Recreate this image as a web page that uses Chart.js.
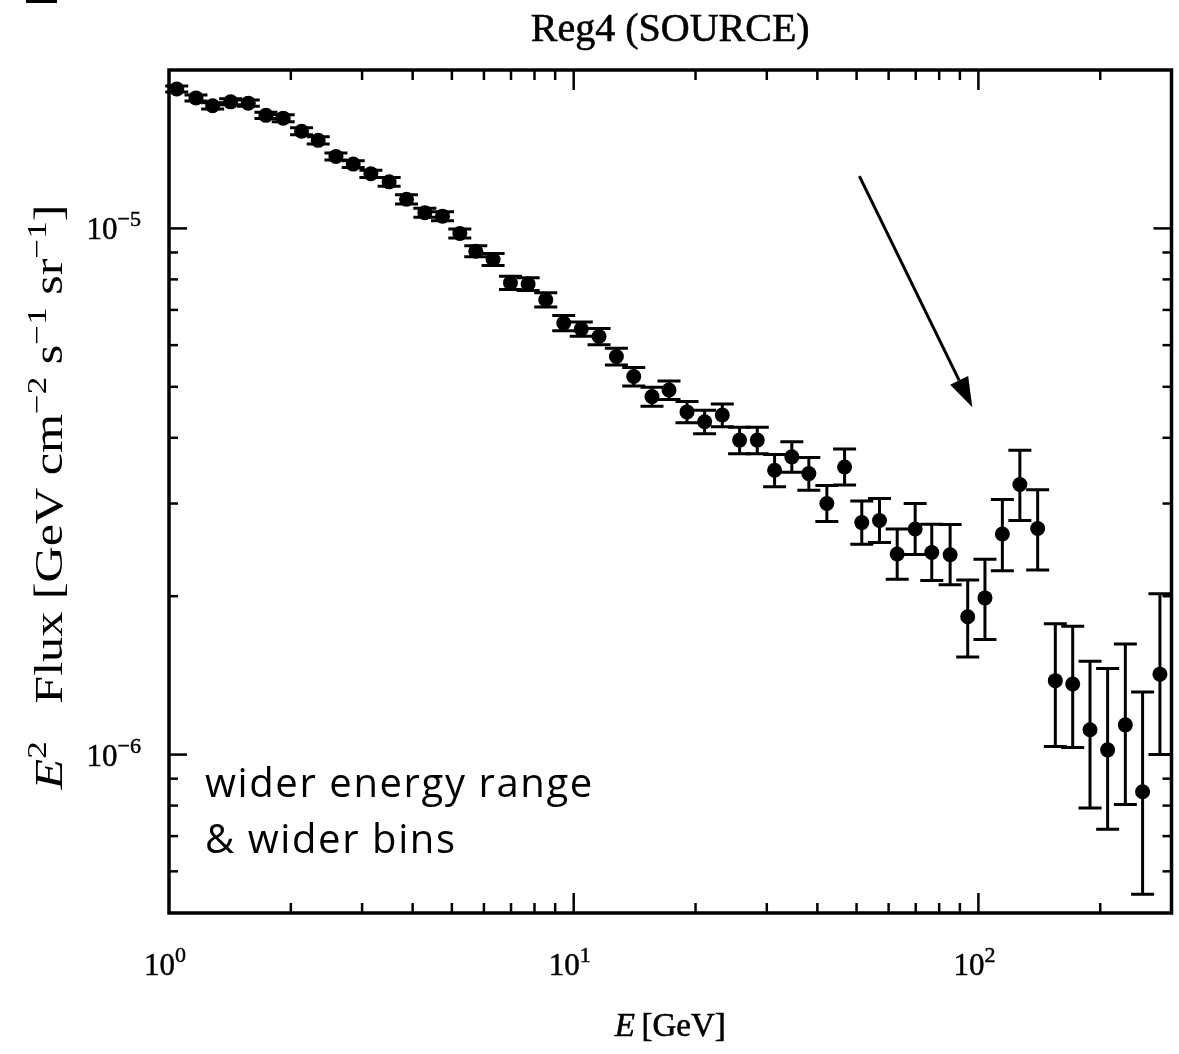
<!DOCTYPE html>
<html>
<head>
<meta charset="utf-8">
<script src="https://cdn.jsdelivr.net/npm/chart.js@4.4.0/dist/chart.umd.min.js"></script>
<style>
  html, body { margin: 0; padding: 0; background: #fff; }
  #wrap { position: relative; width: 1179px; height: 1054px; }
  #spectrum { display: block; }
</style>
</head>
<body>
<div id="wrap"><canvas id="spectrum" width="1179" height="1054"></canvas></div>
<script>
// bin centres [GeV]
const energy = [
  1.045, 1.166, 1.282, 1.420, 1.570, 1.736, 1.915, 2.126, 2.337, 2.585,
  2.852, 3.154, 3.499, 3.863, 4.287, 4.741, 5.231, 5.728, 6.321, 6.978,
  7.716, 8.530, 9.448, 10.44, 11.55, 12.75, 14.07, 15.61, 17.20, 19.05,
  21.06, 23.29, 25.70, 28.42, 31.36, 34.59, 38.11, 42.22, 46.70, 51.50,
  56.96, 63.00, 69.78, 76.69, 85.14, 94.10, 103.8, 114.6, 126.6, 140.1,
  154.9, 171.0, 188.7, 208.6, 230.7, 254.5, 280.9
];
// E^2 flux [GeV cm^-2 s^-1 sr^-1]
const flux = [
  1.84e-5, 1.77e-5, 1.71e-5, 1.74e-5, 1.73e-5, 1.64e-5, 1.62e-5, 1.53e-5, 1.47e-5, 1.37e-5,
  1.325e-5, 1.27e-5, 1.226e-5, 1.136e-5, 1.071e-5, 1.055e-5, 9.78e-6, 9.05e-6, 8.73e-6, 7.88e-6,
  7.84e-6, 7.32e-6, 6.61e-6, 6.44e-6, 6.23e-6, 5.71e-6, 5.23e-6, 4.79e-6, 4.93e-6, 4.48e-6,
  4.29e-6, 4.42e-6, 3.96e-6, 3.96e-6, 3.47e-6, 3.68e-6, 3.42e-6, 3.00e-6, 3.52e-6, 2.76e-6,
  2.785e-6, 2.405e-6, 2.684e-6, 2.422e-6, 2.398e-6, 1.828e-6, 1.985e-6, 2.626e-6, 3.26e-6, 2.69e-6,
  1.382e-6, 1.362e-6, 1.115e-6, 1.021e-6, 1.139e-6, 8.50e-7, 1.422e-6
];
const errMinus = [
  2.4e-7, 2.3e-7, 2.3e-7, 2.3e-7, 2.3e-7, 2.2e-7, 2.5e-7, 2.4e-7, 2.3e-7, 2.1e-7,
  2.0e-7, 2.0e-7, 2.4e-7, 2.3e-7, 2.1e-7, 2.1e-7, 1.9e-7, 2.2e-7, 2.3e-7, 2.3e-7,
  2.2e-7, 2.3e-7, 2.2e-7, 2.0e-7, 2.2e-7, 2.1e-7, 2.1e-7, 2.0e-7, 2.0e-7, 2.1e-7,
  2.2e-7, 2.2e-7, 2.3e-7, 2.3e-7, 2.4e-7, 2.4e-7, 2.4e-7, 2.28e-7, 2.68e-7, 2.49e-7,
  2.56e-7, 2.50e-7, 2.84e-7, 2.80e-7, 2.96e-7, 2.96e-7, 3.30e-7, 3.91e-7, 4.76e-7, 4.48e-7,
  3.46e-7, 3.31e-7, 3.23e-7, 3.00e-7, 3.35e-7, 3.07e-7, 4.22e-7
];
const errPlus = [
  2.4e-7, 2.3e-7, 2.3e-7, 2.3e-7, 2.3e-7, 2.2e-7, 2.5e-7, 2.4e-7, 2.3e-7, 2.1e-7,
  2.0e-7, 2.0e-7, 2.4e-7, 2.3e-7, 2.1e-7, 2.1e-7, 1.9e-7, 2.2e-7, 2.3e-7, 2.3e-7,
  2.2e-7, 2.3e-7, 2.2e-7, 2.0e-7, 2.2e-7, 2.1e-7, 2.1e-7, 2.0e-7, 2.0e-7, 2.1e-7,
  2.2e-7, 2.2e-7, 2.3e-7, 2.3e-7, 2.5e-7, 2.5e-7, 2.5e-7, 2.47e-7, 2.90e-7, 2.74e-7,
  2.82e-7, 2.79e-7, 3.18e-7, 3.17e-7, 3.38e-7, 3.18e-7, 3.67e-7, 4.26e-7, 5.26e-7, 4.95e-7,
  3.91e-7, 3.92e-7, 3.90e-7, 4.36e-7, 4.84e-7, 4.65e-7, 6.00e-7
];

// axis ranges and labelled decades
const xRange = [1, 300];
const yRange = [5e-7, 2e-5];
const xDecades = [[1, '0'], [10, '1'], [100, '2']];
const yDecades = [[1e-6, '\u22126'], [1e-5, '\u22125']];

// arrow pointing at the bump, in data coordinates
const arrowFrom = { x: 50.8, y: 1.257e-5 };
const arrowTo = { x: 96.6, y: 4.57e-6 };

const SERIF = '"Liberation Serif", "DejaVu Serif", serif';
const SANS = '"Open Sans", "Noto Sans", sans-serif';

// lay out a run of text pieces with different fonts / raises; returns total width
function measureRich(ctx, parts) {
  let total = 0;
  parts.forEach(p => { ctx.font = p.font; p.w = ctx.measureText(p.t).width; total += p.w; });
  return total;
}

function drawRich(ctx, parts, x, y, align, heavy) {
  const total = measureRich(ctx, parts);
  let cx = align === 'center' ? x - total / 2 : align === 'right' ? x - total : x;
  ctx.textAlign = 'left';
  ctx.textBaseline = 'alphabetic';
  parts.forEach(p => {
    ctx.font = p.font;
    ctx.fillText(p.t, cx, y - (p.rise || 0));
    if (heavy) ctx.strokeText(p.t, cx, y - (p.rise || 0));
    cx += p.w;
  });
}

function pow10(exp, size) {
  return [
    { t: '10', font: `${size}px ${SERIF}` },
    { t: exp, font: `${Math.round(size * 0.7)}px ${SERIF}`, rise: size * 0.42 }
  ];
}

const errorBars = {
  id: 'errorBars',
  beforeDatasetsDraw(chart) {
    const { ctx, scales: { x, y } } = chart;
    ctx.save();
    ctx.strokeStyle = '#000';
    ctx.lineWidth = 3;
    energy.forEach((e, i) => {
      const px = x.getPixelForValue(e);
      const top = y.getPixelForValue(flux[i] + errPlus[i]);
      const bot = y.getPixelForValue(flux[i] - errMinus[i]);
      ctx.beginPath();
      ctx.moveTo(px, top); ctx.lineTo(px, bot);
      ctx.moveTo(px - 11.5, top); ctx.lineTo(px + 11.5, top);
      ctx.moveTo(px - 11.5, bot); ctx.lineTo(px + 11.5, bot);
      ctx.stroke();
    });
    ctx.restore();
  }
};

const frameAndAxes = {
  id: 'frameAndAxes',
  afterDatasetsDraw(chart) {
    const { ctx, chartArea: a, scales: { x, y } } = chart;
    ctx.save();
    ctx.strokeStyle = '#000';
    ctx.fillStyle = '#000';

    // inward ticks on all four sides
    ctx.lineWidth = 2.5;
    const tick = (x1, y1, x2, y2) => { ctx.beginPath(); ctx.moveTo(x1, y1); ctx.lineTo(x2, y2); ctx.stroke(); };
    for (let d = 1; d <= 100; d *= 10) {
      for (let m = 1; m <= 9; m++) {
        const v = d * m;
        if (v <= xRange[0] || v >= xRange[1]) continue;
        const len = m === 1 ? 20 : 10;
        const px = x.getPixelForValue(v);
        tick(px, a.bottom, px, a.bottom - len);
        tick(px, a.top, px, a.top + len);
      }
    }
    for (let d = 1e-7; d <= 1e-5; d *= 10) {
      for (let m = 1; m <= 9; m++) {
        const v = d * m;
        if (v <= yRange[0] * 1.0001 || v >= yRange[1] * 0.9999) continue;
        const len = m === 1 ? 18 : 9;
        const py = y.getPixelForValue(v);
        tick(a.left, py, a.left + len, py);
        tick(a.right, py, a.right - len, py);
      }
    }

    ctx.lineWidth = 3.5;
    ctx.strokeRect(a.left, a.top, a.right - a.left, a.bottom - a.top);

    // decade labels
    ctx.lineWidth = 0.5;
    xDecades.forEach(([v, e]) => drawRich(ctx, pow10(e, 31), x.getPixelForValue(v) - 4, a.bottom + 62, 'center', true));
    yDecades.forEach(([v, e]) => drawRich(ctx, pow10(e, 31), a.left - 28, y.getPixelForValue(v) + 11, 'right', true));

    // arrow
    const x0 = x.getPixelForValue(arrowFrom.x), y0 = y.getPixelForValue(arrowFrom.y);
    const x1 = x.getPixelForValue(arrowTo.x), y1 = y.getPixelForValue(arrowTo.y);
    const ang = Math.atan2(y1 - y0, x1 - x0);
    const head = 30, half = 10;
    const bx = x1 - head * Math.cos(ang), by = y1 - head * Math.sin(ang);
    ctx.lineWidth = 3;
    ctx.beginPath(); ctx.moveTo(x0, y0); ctx.lineTo(bx, by); ctx.stroke();
    ctx.beginPath();
    ctx.moveTo(x1, y1);
    ctx.lineTo(bx + half * Math.sin(ang), by - half * Math.cos(ang));
    ctx.lineTo(bx - half * Math.sin(ang), by + half * Math.cos(ang));
    ctx.closePath();
    ctx.fill();
    ctx.restore();
  },
  afterDraw(chart) {
    const { ctx, chartArea: a } = chart;
    ctx.save();
    ctx.fillStyle = '#000';
    ctx.strokeStyle = '#000';
    ctx.lineWidth = 0.6;
    const mid = (a.left + a.right) / 2;

    // title
    drawRich(ctx, [{ t: 'Reg4 (SOURCE)', font: `40px ${SERIF}` }], mid, 41, 'center', true);

    // x axis title
    drawRich(ctx, [
      { t: 'E', font: `italic 33px ${SERIF}` },
      { t: '\u2009[GeV]', font: `33px ${SERIF}` }
    ], mid, a.bottom + 123, 'center', true);

    // y axis title, rotated and spread along the axis
    const big = `40px ${SERIF}`, sup = `28px ${SERIF}`, r = 16;
    const yParts = [
      { t: 'E', font: `italic ${big}` },
      { t: '2', font: sup, rise: r },
      { t: '   Flux [GeV cm', font: big },
      { t: '\u22122', font: sup, rise: r },
      { t: ' s', font: big },
      { t: '\u22121', font: sup, rise: r },
      { t: ' sr', font: big },
      { t: '\u22121', font: sup, rise: r },
      { t: ']', font: big }
    ];
    const span = 585;
    const stretch = span / measureRich(ctx, yParts);
    ctx.translate(62, 497);
    ctx.rotate(-Math.PI / 2);
    ctx.scale(stretch, 1);
    drawRich(ctx, yParts, 0, 0, 'center', false);
    ctx.setTransform(1, 0, 0, 1, 0, 0);

    // note in the lower left
    ctx.font = `40px ${SANS}`;
    ctx.letterSpacing = '1.6px';
    ctx.textAlign = 'left';
    ctx.fillText('wider energy range', 205, 797);
    ctx.fillText('& wider bins', 205, 853);
    ctx.letterSpacing = '0px';

    // short rule in the top-left corner
    ctx.fillRect(26, 0, 31, 3);
    ctx.restore();
  }
};

new Chart(document.getElementById('spectrum'), {
  type: 'scatter',
  data: {
    datasets: [{
      data: energy.map((e, i) => ({ x: e, y: flux[i] })),
      pointRadius: 7.5,
      pointHoverRadius: 7.5,
      pointBackgroundColor: '#000',
      pointBorderWidth: 0
    }]
  },
  options: {
    responsive: false,
    animation: false,
    events: [],
    layout: { padding: { left: 169, right: 7, top: 70, bottom: 141 } },
    scales: {
      x: { type: 'logarithmic', min: xRange[0], max: xRange[1], display: false },
      y: { type: 'logarithmic', min: yRange[0], max: yRange[1], display: false }
    },
    plugins: { legend: { display: false }, tooltip: { enabled: false } }
  },
  plugins: [errorBars, frameAndAxes]
});
</script>
</body>
</html>
